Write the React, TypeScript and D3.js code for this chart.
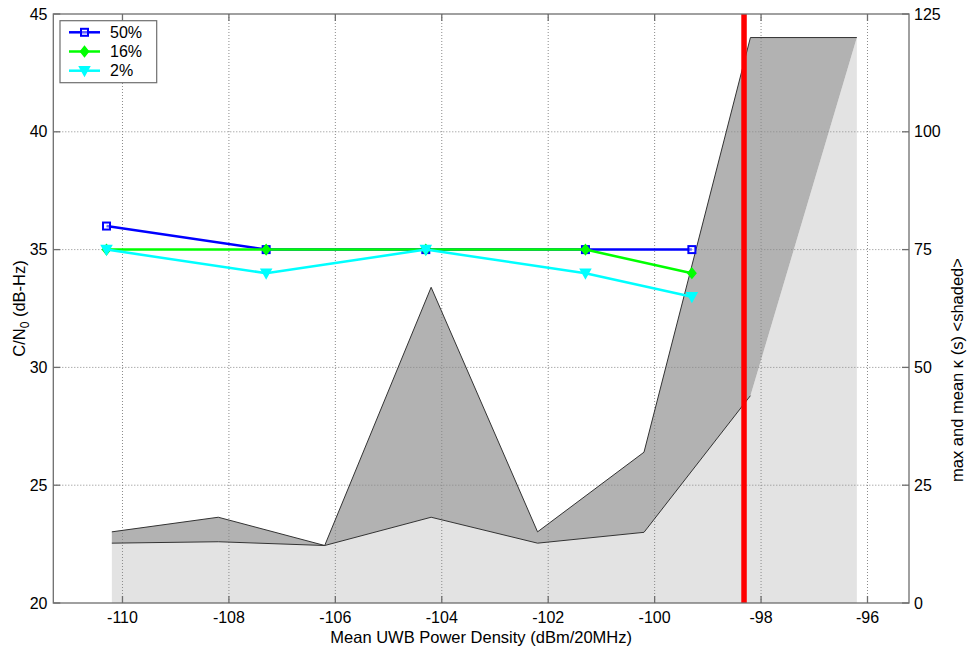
import React from 'react';
import * as d3 from 'd3';

const xPoints = [-110.3, -107.3, -104.3, -101.3, -99.3];
const cn50 = [36, 35, 35, 35, 35];
const cn16 = [35, 35, 35, 35, 34];
const cn2 = [35, 34, 35, 34, 33];
const shadeX = [-110.2, -108.2, -106.2, -104.2, -102.2, -100.2, -98.2, -96.2];
const kMax = [15.1, 18.2, 12.2, 67, 15.1, 32, 120, 120];
const kMean = [12.7, 13, 12.2, 18.2, 12.7, 15, 44, 120];
const redX = -98.32;
const xTicks = [-110, -108, -106, -104, -102, -100, -98, -96];
const yTicks = [20, 25, 30, 35, 40, 45];
const y2Ticks = [0, 25, 50, 75, 100, 125];
const seriesNames = ['50%', '16%', '2%'];

const L = 53.3, R = 909, T = 14, B = 603;
const FONT = '"Liberation Sans", Arial, sans-serif';

export default function App() {
  const x = d3.scaleLinear().domain([-111.3, -95.22]).range([L, R]);
  const y = d3.scaleLinear().domain([20, 45]).range([B, T]);
  const y2 = d3.scaleLinear().domain([0, 125]).range([B, T]);

  const shade = shadeX.map((v, i) => ({ x: v, mx: kMax[i], mn: kMean[i] }));
  const lightArea = d3.area<any>().x(d => x(d.x)).y0(y2(0)).y1(d => y2(d.mn))(shade) || '';
  const darkArea = d3.area<any>().x(d => x(d.x)).y0(d => y2(d.mn)).y1(d => y2(d.mx))(shade) || '';
  const maxLine = d3.line<any>().x(d => x(d.x)).y(d => y2(d.mx))(shade) || '';
  const meanLine = d3.line<any>().x(d => x(d.x)).y(d => y2(d.mn))(shade.slice(0, 7)) || '';

  const series = [
    { name: seriesNames[0], vals: cn50, color: '#0000ff', marker: 'square' },
    { name: seriesNames[1], vals: cn16, color: '#00ff00', marker: 'diamond' },
    { name: seriesNames[2], vals: cn2, color: '#00ffff', marker: 'tri' },
  ];
  const line = d3.line<number>().x((_, i) => x(xPoints[i])).y(d => y(d));

  const marker = (type: string, cx: number, cy: number, color: string, key: any) => {
    if (type === 'square')
      return <rect key={key} x={cx - 3.5} y={cy - 3.5} width={7} height={7} fill="#ffffff" fillOpacity={0.4} stroke={color} strokeWidth={2} />;
    if (type === 'diamond')
      return <path key={key} d={`M${cx},${cy - 5}L${cx + 4},${cy}L${cx},${cy + 5}L${cx - 4},${cy}Z`} fill={color} stroke={color} strokeWidth={1.5} />;
    return <path key={key} d={`M${cx - 5},${cy - 4}L${cx + 5},${cy - 4}L${cx},${cy + 5}Z`} fill={color} stroke={color} strokeWidth={1.5} />;
  };

  const axisColor = '#6e6e6e';
  const tickLen = 7;

  return (
    <svg width={969} height={654} style={{ position: 'absolute', left: 0, top: 0, background: '#fff' }} fontFamily={FONT}>
      <rect x={0} y={0} width={969} height={654} fill="#fff" />
      {/* shaded areas */}
      <path d={lightArea} fill="#e3e3e3" />
      <path d={darkArea} fill="#b2b2b2" />
      {/* grid */}
      {xTicks.map(t => (
        <line key={'gx' + t} x1={x(t)} x2={x(t)} y1={T} y2={B} stroke="#8a8a8a" strokeWidth={1} strokeDasharray="1,2" />
      ))}
      {yTicks.slice(1, -1).map(t => (
        <line key={'gy' + t} x1={L} x2={R} y1={y(t)} y2={y(t)} stroke="#8a8a8a" strokeWidth={1} strokeDasharray="1,2" />
      ))}
      <path d={maxLine} fill="none" stroke="#333" strokeWidth={1} />
      <path d={meanLine} fill="none" stroke="#333" strokeWidth={1} />
      {/* red line */}
      <line x1={x(redX)} x2={x(redX)} y1={T} y2={B} stroke="#ff0000" strokeWidth={5.5} />
      {/* series */}
      {series.map(s => (
        <g key={s.name}>
          <path d={line(s.vals) || ''} fill="none" stroke={s.color} strokeWidth={2.5} />
          {s.vals.map((v, i) => marker(s.marker, x(xPoints[i]), y(v), s.color, i))}
        </g>
      ))}
      {/* frame */}
      <rect x={L} y={T} width={R - L} height={B - T} fill="none" stroke={axisColor} strokeWidth={1.3} />
      {xTicks.map(t => (
        <g key={'tx' + t}>
          <line x1={x(t)} x2={x(t)} y1={B} y2={B - tickLen} stroke={axisColor} strokeWidth={1.3} />
          <line x1={x(t)} x2={x(t)} y1={T} y2={T + tickLen} stroke={axisColor} strokeWidth={1.3} />
          <text x={x(t)} y={623} textAnchor="middle" fontSize={16} fill="#000">{t}</text>
        </g>
      ))}
      {yTicks.map(t => (
        <g key={'ty' + t}>
          <line x1={L} x2={L + tickLen} y1={y(t)} y2={y(t)} stroke={axisColor} strokeWidth={1.3} />
          <text x={47.5} y={y(t) + 5.5} textAnchor="end" fontSize={16} fill="#000">{t}</text>
        </g>
      ))}
      {y2Ticks.map(t => (
        <g key={'ty2' + t}>
          <line x1={R} x2={R - tickLen} y1={y2(t)} y2={y2(t)} stroke={axisColor} strokeWidth={1.3} />
          <text x={914} y={y2(t) + 5.5} textAnchor="start" fontSize={16} fill="#000">{t}</text>
        </g>
      ))}
      {/* axis labels */}
      <text x={(L + R) / 2} y={643} textAnchor="middle" fontSize={16.5} fill="#000">Mean UWB Power Density (dBm/20MHz)</text>
      <text transform={`translate(25,${(T + B) / 2}) rotate(-90)`} textAnchor="middle" fontSize={16.5} fill="#000">
        C/N<tspan fontSize={12} dy={4}>0</tspan><tspan dy={-4}> (dB-Hz)</tspan>
      </text>
      <text transform={`translate(963,370) rotate(-90)`} textAnchor="middle" fontSize={16.5} fill="#000">max and mean κ (s) &lt;shaded&gt;</text>
      {/* legend */}
      <rect x={60} y={20.7} width={96.7} height={62} fill="#fff" stroke={axisColor} strokeWidth={1.2} />
      {series.map((s, i) => {
        const ly = 32.3 + i * 19.2;
        return (
          <g key={'lg' + i}>
            <line x1={69} x2={100} y1={ly} y2={ly} stroke={s.color} strokeWidth={2.5} />
            {marker(s.marker, 84.5, ly, s.color, 'm')}
            <text x={110} y={ly + 5.5} fontSize={16} fill="#000">{s.name}</text>
          </g>
        );
      })}
    </svg>
  );
}
